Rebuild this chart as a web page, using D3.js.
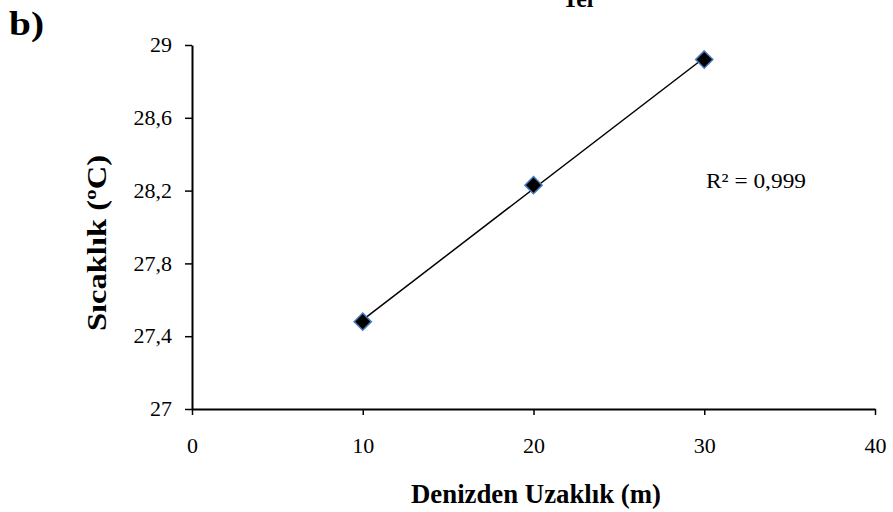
<!DOCTYPE html>
<html>
<head>
<meta charset="utf-8">
<script src="https://cdn.jsdelivr.net/npm/d3@7"></script>
<style>
  html, body { margin: 0; padding: 0; background: #fff; }
  svg { display: block; font-family: "Liberation Serif", "Times New Roman", serif; }
</style>
</head>
<body>
<svg id="chart" width="893" height="512"></svg>
<script>
// Distance from the sea (m) and measured temperature (°C)
const distances = [10, 20, 30];
const temperatures = [27.48, 28.23, 28.92];
const xTicks = [0, 10, 20, 30, 40];
const yTicks = [27, 27.4, 27.8, 28.2, 28.6, 29];
const rSquaredLabel = "R² = 0,999";
const chartTitle = "Tel";
const panelLabel = "b)";
const xTitle = "Denizden Uzaklık (m)";
const yTitle = "Sıcaklık (ºC)";

const svg = d3.select("#chart");
const margin = { left: 192, right: 18, top: 45, bottom: 103 };
const W = 893, H = 512;

const x = d3.scaleLinear().domain([0, 40]).range([margin.left, W - margin.right]);
const y = d3.scaleLinear().domain([27, 29]).range([H - margin.bottom, margin.top]);

const fmt = d => String(d).replace(".", ",");

// Axes
const xAxis = svg.append("g")
  .attr("transform", `translate(0,${y(27)})`)
  .call(d3.axisBottom(x).tickValues(xTicks).tickSize(6).tickSizeOuter(0).tickPadding(22).tickFormat(fmt));
const yAxis = svg.append("g")
  .attr("transform", `translate(${x(0)},0)`)
  .call(d3.axisLeft(y).tickValues(yTicks).tickSize(7).tickSizeOuter(0).tickPadding(13).tickFormat(fmt));

[xAxis, yAxis].forEach(g => {
  g.select(".domain").attr("stroke", "#000").attr("stroke-width", 2);
  g.selectAll(".tick line").attr("stroke", "#000").attr("stroke-width", 1.5);
  g.selectAll(".tick text")
    .attr("fill", "#000")
    .style("font-family", "'Liberation Serif', 'Times New Roman', serif")
    .style("font-size", "22px");
});
yAxis.selectAll(".tick text").attr("dy", "0.3em");

// Linear trendline fitted to the measurements
const mx = d3.mean(distances), my = d3.mean(temperatures);
const slope = d3.sum(distances, (d, i) => (d - mx) * (temperatures[i] - my)) /
              d3.sum(distances, d => (d - mx) * (d - mx));
const intercept = my - slope * mx;
const xMin = d3.min(distances), xMax = d3.max(distances);
svg.append("line")
  .attr("x1", x(xMin)).attr("y1", y(intercept + slope * xMin))
  .attr("x2", x(xMax)).attr("y2", y(intercept + slope * xMax))
  .attr("stroke", "#000").attr("stroke-width", 1.5);

// Diamond markers
const diamond = d3.symbol().type(d3.symbolDiamond2).size(190);
svg.append("g").selectAll("path")
  .data(distances.map((d, i) => ({ d, t: temperatures[i] })))
  .join("path")
  .attr("d", diamond)
  .attr("transform", p => `translate(${x(p.d)},${y(p.t)})`)
  .attr("fill", "#000")
  .attr("stroke", "#4a7ebb")
  .attr("stroke-width", 1.5);

// Texts
svg.append("text")
  .attr("x", 756).attr("y", 188)
  .attr("text-anchor", "middle")
  .style("font-size", "22px")
  .attr("textLength", 100).attr("lengthAdjust", "spacingAndGlyphs")
  .text(rSquaredLabel);

svg.append("text")
  .attr("x", 578).attr("y", 7)
  .attr("text-anchor", "middle")
  .style("font-size", "26px").style("font-weight", "bold")
  .attr("textLength", 31).attr("lengthAdjust", "spacingAndGlyphs")
  .text(chartTitle);

svg.append("text")
  .attr("x", 9).attr("y", 35)
  .style("font-size", "34px").style("font-weight", "bold")
  .attr("textLength", 35).attr("lengthAdjust", "spacingAndGlyphs")
  .text(panelLabel);

svg.append("text")
  .attr("x", 536).attr("y", 503)
  .attr("text-anchor", "middle")
  .style("font-size", "27px").style("font-weight", "bold")
  .attr("textLength", 250).attr("lengthAdjust", "spacingAndGlyphs")
  .text(xTitle);

svg.append("text")
  .attr("transform", "translate(106,243) rotate(-90)")
  .attr("text-anchor", "middle")
  .style("font-size", "27px").style("font-weight", "bold")
  .attr("textLength", 176).attr("lengthAdjust", "spacingAndGlyphs")
  .text(yTitle);
</script>
</body>
</html>
